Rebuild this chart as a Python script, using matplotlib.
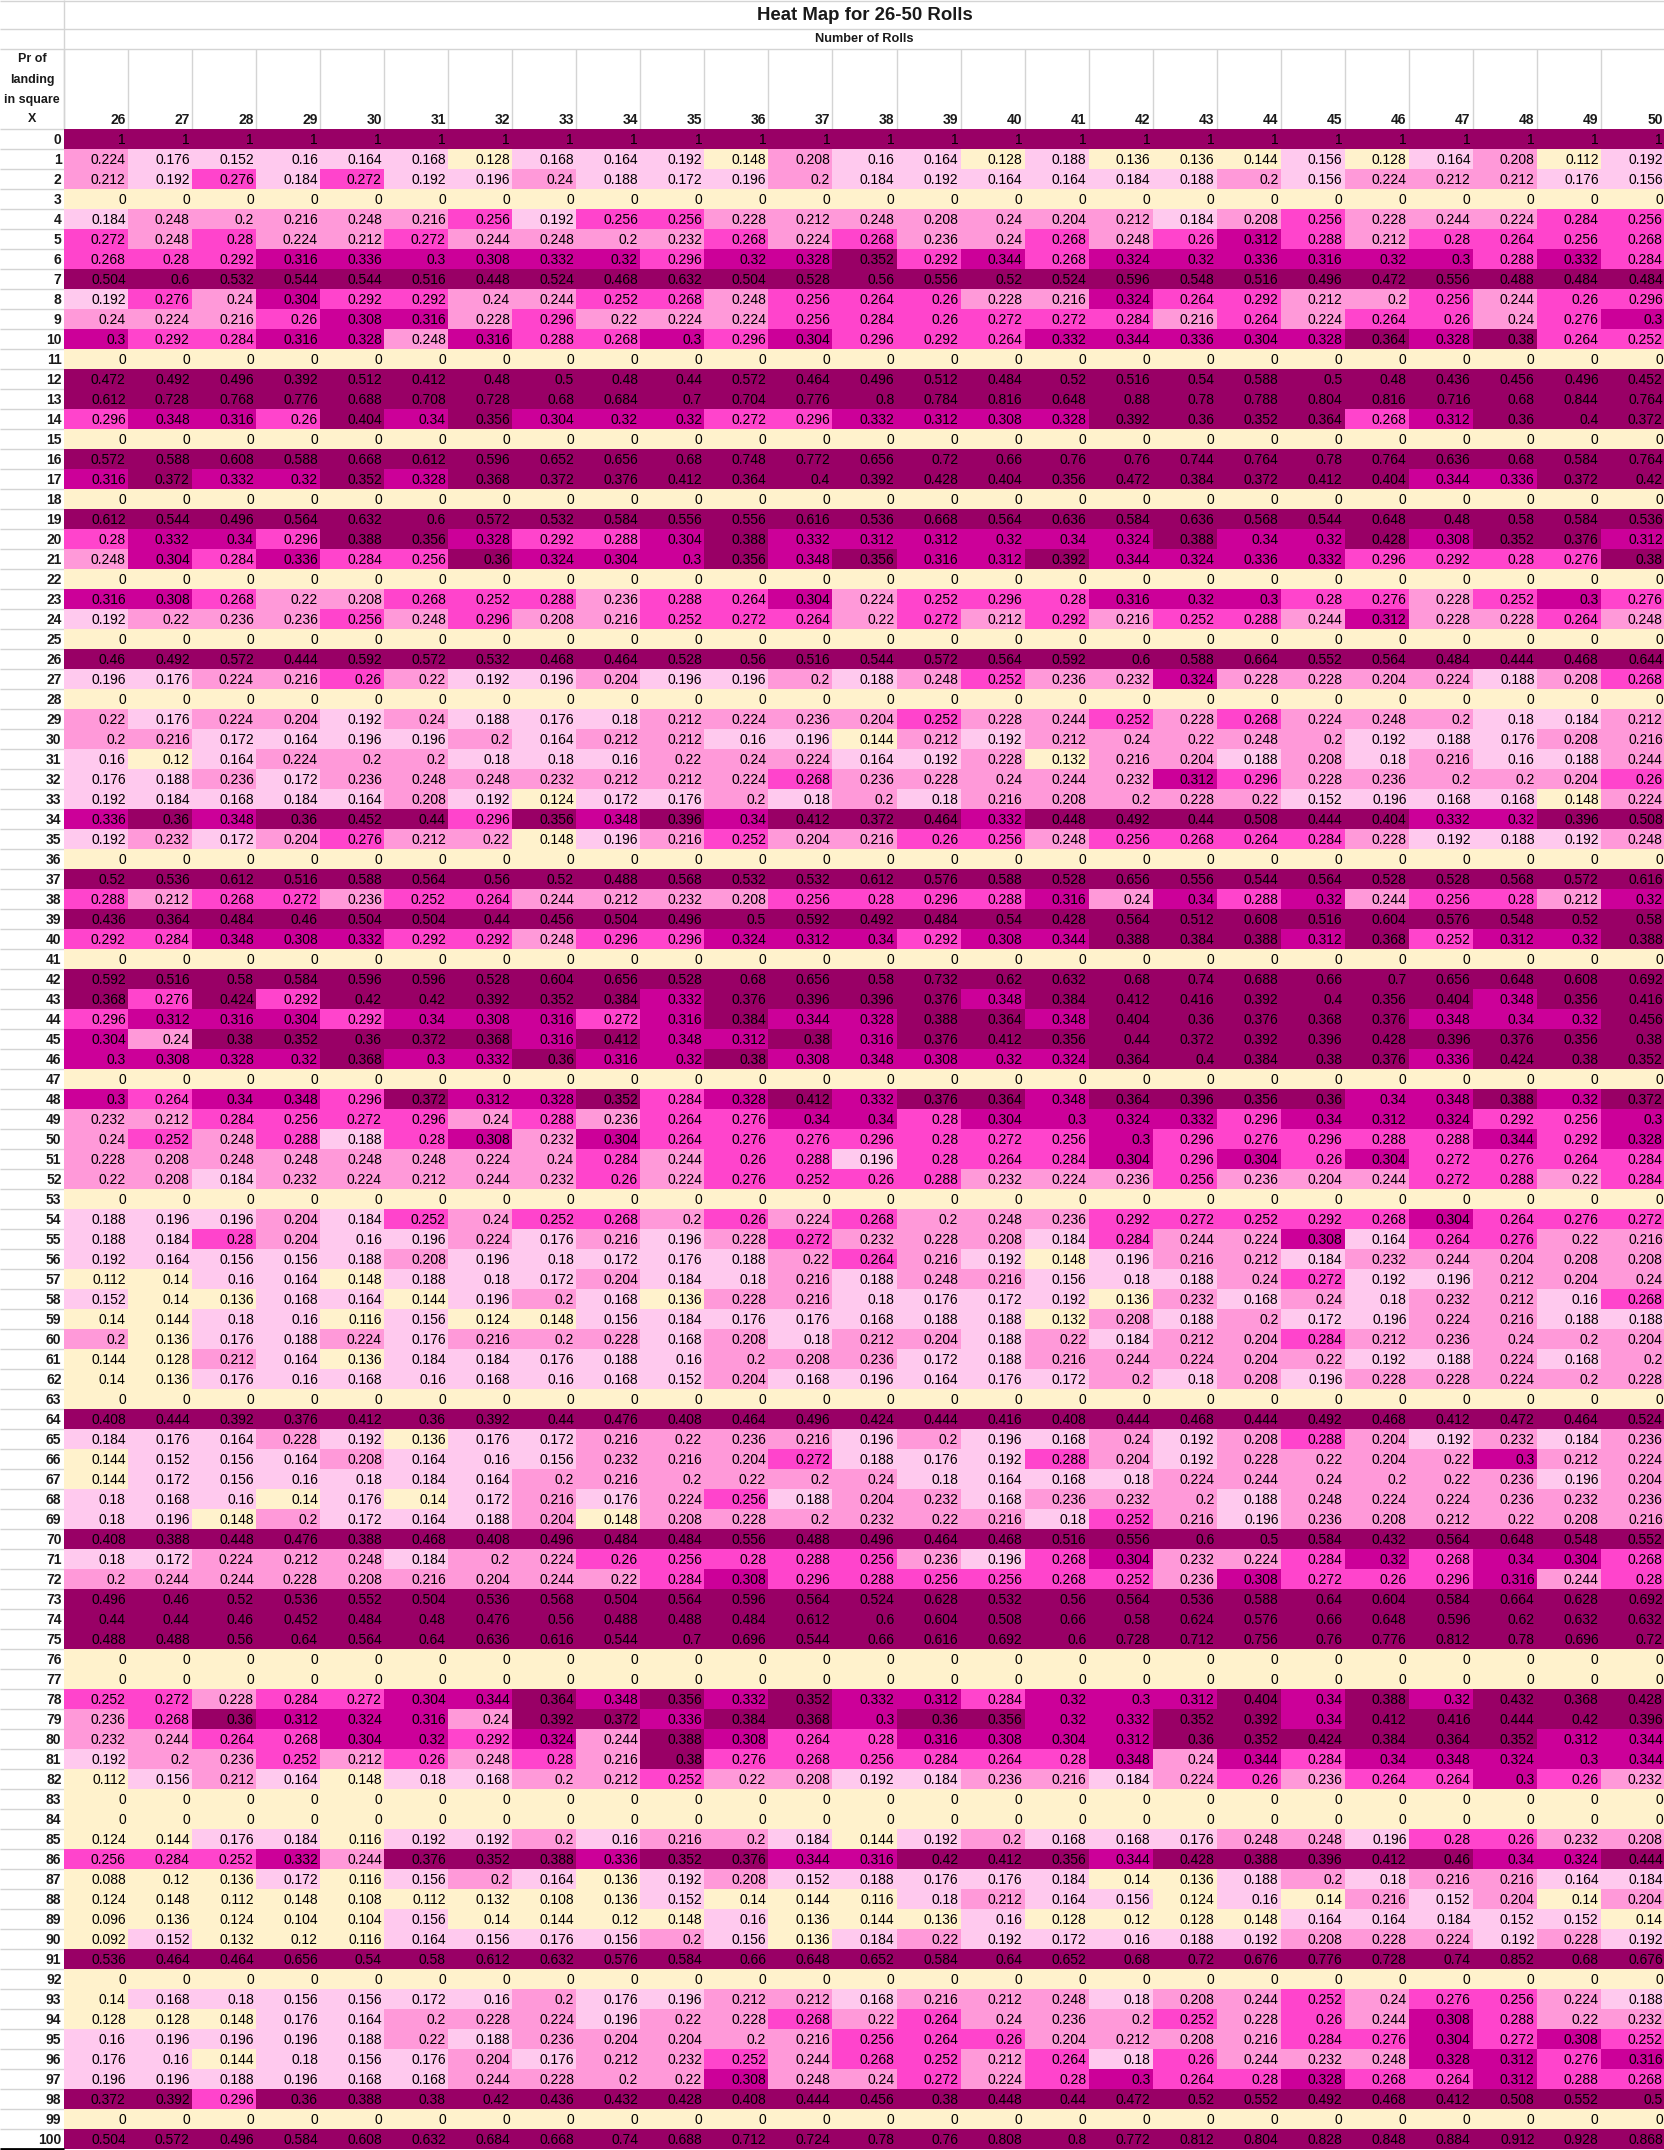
import numpy as np
import matplotlib
matplotlib.use("Agg")
import matplotlib.pyplot as plt
from matplotlib.colors import ListedColormap, BoundaryNorm

rolls = list(range(26, 51))
squares = list(range(0, 101))
title = "Heat Map for 26-50 Rolls"
subtitle = "Number of Rolls"
corner = ["Pr of", "landing", "in square", "X"]

ones = [1] * 25
zeros = [0] * 25

# one list per square X (rows), values for 26..50 rolls
probs = [
    ones,
    [0.224, 0.176, 0.152, 0.16, 0.164, 0.168, 0.128, 0.168, 0.164, 0.192, 0.148, 0.208, 0.16, 0.164, 0.128, 0.188, 0.136, 0.136, 0.144, 0.156, 0.128, 0.164, 0.208, 0.112, 0.192],
    [0.212, 0.192, 0.276, 0.184, 0.272, 0.192, 0.196, 0.24, 0.188, 0.172, 0.196, 0.2, 0.184, 0.192, 0.164, 0.164, 0.184, 0.188, 0.2, 0.156, 0.224, 0.212, 0.212, 0.176, 0.156],
    zeros,
    [0.184, 0.248, 0.2, 0.216, 0.248, 0.216, 0.256, 0.192, 0.256, 0.256, 0.228, 0.212, 0.248, 0.208, 0.24, 0.204, 0.212, 0.184, 0.208, 0.256, 0.228, 0.244, 0.224, 0.284, 0.256],
    [0.272, 0.248, 0.28, 0.224, 0.212, 0.272, 0.244, 0.248, 0.2, 0.232, 0.268, 0.224, 0.268, 0.236, 0.24, 0.268, 0.248, 0.26, 0.312, 0.288, 0.212, 0.28, 0.264, 0.256, 0.268],
    [0.268, 0.28, 0.292, 0.316, 0.336, 0.3, 0.308, 0.332, 0.32, 0.296, 0.32, 0.328, 0.352, 0.292, 0.344, 0.268, 0.324, 0.32, 0.336, 0.316, 0.32, 0.3, 0.288, 0.332, 0.284],
    [0.504, 0.6, 0.532, 0.544, 0.544, 0.516, 0.448, 0.524, 0.468, 0.632, 0.504, 0.528, 0.56, 0.556, 0.52, 0.524, 0.596, 0.548, 0.516, 0.496, 0.472, 0.556, 0.488, 0.484, 0.484],
    [0.192, 0.276, 0.24, 0.304, 0.292, 0.292, 0.24, 0.244, 0.252, 0.268, 0.248, 0.256, 0.264, 0.26, 0.228, 0.216, 0.324, 0.264, 0.292, 0.212, 0.2, 0.256, 0.244, 0.26, 0.296],
    [0.24, 0.224, 0.216, 0.26, 0.308, 0.316, 0.228, 0.296, 0.22, 0.224, 0.224, 0.256, 0.284, 0.26, 0.272, 0.272, 0.284, 0.216, 0.264, 0.224, 0.264, 0.26, 0.24, 0.276, 0.3],
    [0.3, 0.292, 0.284, 0.316, 0.328, 0.248, 0.316, 0.288, 0.268, 0.3, 0.296, 0.304, 0.296, 0.292, 0.264, 0.332, 0.344, 0.336, 0.304, 0.328, 0.364, 0.328, 0.38, 0.264, 0.252],
    zeros,
    [0.472, 0.492, 0.496, 0.392, 0.512, 0.412, 0.48, 0.5, 0.48, 0.44, 0.572, 0.464, 0.496, 0.512, 0.484, 0.52, 0.516, 0.54, 0.588, 0.5, 0.48, 0.436, 0.456, 0.496, 0.452],
    [0.612, 0.728, 0.768, 0.776, 0.688, 0.708, 0.728, 0.68, 0.684, 0.7, 0.704, 0.776, 0.8, 0.784, 0.816, 0.648, 0.88, 0.78, 0.788, 0.804, 0.816, 0.716, 0.68, 0.844, 0.764],
    [0.296, 0.348, 0.316, 0.26, 0.404, 0.34, 0.356, 0.304, 0.32, 0.32, 0.272, 0.296, 0.332, 0.312, 0.308, 0.328, 0.392, 0.36, 0.352, 0.364, 0.268, 0.312, 0.36, 0.4, 0.372],
    zeros,
    [0.572, 0.588, 0.608, 0.588, 0.668, 0.612, 0.596, 0.652, 0.656, 0.68, 0.748, 0.772, 0.656, 0.72, 0.66, 0.76, 0.76, 0.744, 0.764, 0.78, 0.764, 0.636, 0.68, 0.584, 0.764],
    [0.316, 0.372, 0.332, 0.32, 0.352, 0.328, 0.368, 0.372, 0.376, 0.412, 0.364, 0.4, 0.392, 0.428, 0.404, 0.356, 0.472, 0.384, 0.372, 0.412, 0.404, 0.344, 0.336, 0.372, 0.42],
    zeros,
    [0.612, 0.544, 0.496, 0.564, 0.632, 0.6, 0.572, 0.532, 0.584, 0.556, 0.556, 0.616, 0.536, 0.668, 0.564, 0.636, 0.584, 0.636, 0.568, 0.544, 0.648, 0.48, 0.58, 0.584, 0.536],
    [0.28, 0.332, 0.34, 0.296, 0.388, 0.356, 0.328, 0.292, 0.288, 0.304, 0.388, 0.332, 0.312, 0.312, 0.32, 0.34, 0.324, 0.388, 0.34, 0.32, 0.428, 0.308, 0.352, 0.376, 0.312],
    [0.248, 0.304, 0.284, 0.336, 0.284, 0.256, 0.36, 0.324, 0.304, 0.3, 0.356, 0.348, 0.356, 0.316, 0.312, 0.392, 0.344, 0.324, 0.336, 0.332, 0.296, 0.292, 0.28, 0.276, 0.38],
    zeros,
    [0.316, 0.308, 0.268, 0.22, 0.208, 0.268, 0.252, 0.288, 0.236, 0.288, 0.264, 0.304, 0.224, 0.252, 0.296, 0.28, 0.316, 0.32, 0.3, 0.28, 0.276, 0.228, 0.252, 0.3, 0.276],
    [0.192, 0.22, 0.236, 0.236, 0.256, 0.248, 0.296, 0.208, 0.216, 0.252, 0.272, 0.264, 0.22, 0.272, 0.212, 0.292, 0.216, 0.252, 0.288, 0.244, 0.312, 0.228, 0.228, 0.264, 0.248],
    zeros,
    [0.46, 0.492, 0.572, 0.444, 0.592, 0.572, 0.532, 0.468, 0.464, 0.528, 0.56, 0.516, 0.544, 0.572, 0.564, 0.592, 0.6, 0.588, 0.664, 0.552, 0.564, 0.484, 0.444, 0.468, 0.644],
    [0.196, 0.176, 0.224, 0.216, 0.26, 0.22, 0.192, 0.196, 0.204, 0.196, 0.196, 0.2, 0.188, 0.248, 0.252, 0.236, 0.232, 0.324, 0.228, 0.228, 0.204, 0.224, 0.188, 0.208, 0.268],
    zeros,
    [0.22, 0.176, 0.224, 0.204, 0.192, 0.24, 0.188, 0.176, 0.18, 0.212, 0.224, 0.236, 0.204, 0.252, 0.228, 0.244, 0.252, 0.228, 0.268, 0.224, 0.248, 0.2, 0.18, 0.184, 0.212],
    [0.2, 0.216, 0.172, 0.164, 0.196, 0.196, 0.2, 0.164, 0.212, 0.212, 0.16, 0.196, 0.144, 0.212, 0.192, 0.212, 0.24, 0.22, 0.248, 0.2, 0.192, 0.188, 0.176, 0.208, 0.216],
    [0.16, 0.12, 0.164, 0.224, 0.2, 0.2, 0.18, 0.18, 0.16, 0.22, 0.24, 0.224, 0.164, 0.192, 0.228, 0.132, 0.216, 0.204, 0.188, 0.208, 0.18, 0.216, 0.16, 0.188, 0.244],
    [0.176, 0.188, 0.236, 0.172, 0.236, 0.248, 0.248, 0.232, 0.212, 0.212, 0.224, 0.268, 0.236, 0.228, 0.24, 0.244, 0.232, 0.312, 0.296, 0.228, 0.236, 0.2, 0.2, 0.204, 0.26],
    [0.192, 0.184, 0.168, 0.184, 0.164, 0.208, 0.192, 0.124, 0.172, 0.176, 0.2, 0.18, 0.2, 0.18, 0.216, 0.208, 0.2, 0.228, 0.22, 0.152, 0.196, 0.168, 0.168, 0.148, 0.224],
    [0.336, 0.36, 0.348, 0.36, 0.452, 0.44, 0.296, 0.356, 0.348, 0.396, 0.34, 0.412, 0.372, 0.464, 0.332, 0.448, 0.492, 0.44, 0.508, 0.444, 0.404, 0.332, 0.32, 0.396, 0.508],
    [0.192, 0.232, 0.172, 0.204, 0.276, 0.212, 0.22, 0.148, 0.196, 0.216, 0.252, 0.204, 0.216, 0.26, 0.256, 0.248, 0.256, 0.268, 0.264, 0.284, 0.228, 0.192, 0.188, 0.192, 0.248],
    zeros,
    [0.52, 0.536, 0.612, 0.516, 0.588, 0.564, 0.56, 0.52, 0.488, 0.568, 0.532, 0.532, 0.612, 0.576, 0.588, 0.528, 0.656, 0.556, 0.544, 0.564, 0.528, 0.528, 0.568, 0.572, 0.616],
    [0.288, 0.212, 0.268, 0.272, 0.236, 0.252, 0.264, 0.244, 0.212, 0.232, 0.208, 0.256, 0.28, 0.296, 0.288, 0.316, 0.24, 0.34, 0.288, 0.32, 0.244, 0.256, 0.28, 0.212, 0.32],
    [0.436, 0.364, 0.484, 0.46, 0.504, 0.504, 0.44, 0.456, 0.504, 0.496, 0.5, 0.592, 0.492, 0.484, 0.54, 0.428, 0.564, 0.512, 0.608, 0.516, 0.604, 0.576, 0.548, 0.52, 0.58],
    [0.292, 0.284, 0.348, 0.308, 0.332, 0.292, 0.292, 0.248, 0.296, 0.296, 0.324, 0.312, 0.34, 0.292, 0.308, 0.344, 0.388, 0.384, 0.388, 0.312, 0.368, 0.252, 0.312, 0.32, 0.388],
    zeros,
    [0.592, 0.516, 0.58, 0.584, 0.596, 0.596, 0.528, 0.604, 0.656, 0.528, 0.68, 0.656, 0.58, 0.732, 0.62, 0.632, 0.68, 0.74, 0.688, 0.66, 0.7, 0.656, 0.648, 0.608, 0.692],
    [0.368, 0.276, 0.424, 0.292, 0.42, 0.42, 0.392, 0.352, 0.384, 0.332, 0.376, 0.396, 0.396, 0.376, 0.348, 0.384, 0.412, 0.416, 0.392, 0.4, 0.356, 0.404, 0.348, 0.356, 0.416],
    [0.296, 0.312, 0.316, 0.304, 0.292, 0.34, 0.308, 0.316, 0.272, 0.316, 0.384, 0.344, 0.328, 0.388, 0.364, 0.348, 0.404, 0.36, 0.376, 0.368, 0.376, 0.348, 0.34, 0.32, 0.456],
    [0.304, 0.24, 0.38, 0.352, 0.36, 0.372, 0.368, 0.316, 0.412, 0.348, 0.312, 0.38, 0.316, 0.376, 0.412, 0.356, 0.44, 0.372, 0.392, 0.396, 0.428, 0.396, 0.376, 0.356, 0.38],
    [0.3, 0.308, 0.328, 0.32, 0.368, 0.3, 0.332, 0.36, 0.316, 0.32, 0.38, 0.308, 0.348, 0.308, 0.32, 0.324, 0.364, 0.4, 0.384, 0.38, 0.376, 0.336, 0.424, 0.38, 0.352],
    zeros,
    [0.3, 0.264, 0.34, 0.348, 0.296, 0.372, 0.312, 0.328, 0.352, 0.284, 0.328, 0.412, 0.332, 0.376, 0.364, 0.348, 0.364, 0.396, 0.356, 0.36, 0.34, 0.348, 0.388, 0.32, 0.372],
    [0.232, 0.212, 0.284, 0.256, 0.272, 0.296, 0.24, 0.288, 0.236, 0.264, 0.276, 0.34, 0.34, 0.28, 0.304, 0.3, 0.324, 0.332, 0.296, 0.34, 0.312, 0.324, 0.292, 0.256, 0.3],
    [0.24, 0.252, 0.248, 0.288, 0.188, 0.28, 0.308, 0.232, 0.304, 0.264, 0.276, 0.276, 0.296, 0.28, 0.272, 0.256, 0.3, 0.296, 0.276, 0.296, 0.288, 0.288, 0.344, 0.292, 0.328],
    [0.228, 0.208, 0.248, 0.248, 0.248, 0.248, 0.224, 0.24, 0.284, 0.244, 0.26, 0.288, 0.196, 0.28, 0.264, 0.284, 0.304, 0.296, 0.304, 0.26, 0.304, 0.272, 0.276, 0.264, 0.284],
    [0.22, 0.208, 0.184, 0.232, 0.224, 0.212, 0.244, 0.232, 0.26, 0.224, 0.276, 0.252, 0.26, 0.288, 0.232, 0.224, 0.236, 0.256, 0.236, 0.204, 0.244, 0.272, 0.288, 0.22, 0.284],
    zeros,
    [0.188, 0.196, 0.196, 0.204, 0.184, 0.252, 0.24, 0.252, 0.268, 0.2, 0.26, 0.224, 0.268, 0.2, 0.248, 0.236, 0.292, 0.272, 0.252, 0.292, 0.268, 0.304, 0.264, 0.276, 0.272],
    [0.188, 0.184, 0.28, 0.204, 0.16, 0.196, 0.224, 0.176, 0.216, 0.196, 0.228, 0.272, 0.232, 0.228, 0.208, 0.184, 0.284, 0.244, 0.224, 0.308, 0.164, 0.264, 0.276, 0.22, 0.216],
    [0.192, 0.164, 0.156, 0.156, 0.188, 0.208, 0.196, 0.18, 0.172, 0.176, 0.188, 0.22, 0.264, 0.216, 0.192, 0.148, 0.196, 0.216, 0.212, 0.184, 0.232, 0.244, 0.204, 0.208, 0.208],
    [0.112, 0.14, 0.16, 0.164, 0.148, 0.188, 0.18, 0.172, 0.204, 0.184, 0.18, 0.216, 0.188, 0.248, 0.216, 0.156, 0.18, 0.188, 0.24, 0.272, 0.192, 0.196, 0.212, 0.204, 0.24],
    [0.152, 0.14, 0.136, 0.168, 0.164, 0.144, 0.196, 0.2, 0.168, 0.136, 0.228, 0.216, 0.18, 0.176, 0.172, 0.192, 0.136, 0.232, 0.168, 0.24, 0.18, 0.232, 0.212, 0.16, 0.268],
    [0.14, 0.144, 0.18, 0.16, 0.116, 0.156, 0.124, 0.148, 0.156, 0.184, 0.176, 0.176, 0.168, 0.188, 0.188, 0.132, 0.208, 0.188, 0.2, 0.172, 0.196, 0.224, 0.216, 0.188, 0.188],
    [0.2, 0.136, 0.176, 0.188, 0.224, 0.176, 0.216, 0.2, 0.228, 0.168, 0.208, 0.18, 0.212, 0.204, 0.188, 0.22, 0.184, 0.212, 0.204, 0.284, 0.212, 0.236, 0.24, 0.2, 0.204],
    [0.144, 0.128, 0.212, 0.164, 0.136, 0.184, 0.184, 0.176, 0.188, 0.16, 0.2, 0.208, 0.236, 0.172, 0.188, 0.216, 0.244, 0.224, 0.204, 0.22, 0.192, 0.188, 0.224, 0.168, 0.2],
    [0.14, 0.136, 0.176, 0.16, 0.168, 0.16, 0.168, 0.16, 0.168, 0.152, 0.204, 0.168, 0.196, 0.164, 0.176, 0.172, 0.2, 0.18, 0.208, 0.196, 0.228, 0.228, 0.224, 0.2, 0.228],
    zeros,
    [0.408, 0.444, 0.392, 0.376, 0.412, 0.36, 0.392, 0.44, 0.476, 0.408, 0.464, 0.496, 0.424, 0.444, 0.416, 0.408, 0.444, 0.468, 0.444, 0.492, 0.468, 0.412, 0.472, 0.464, 0.524],
    [0.184, 0.176, 0.164, 0.228, 0.192, 0.136, 0.176, 0.172, 0.216, 0.22, 0.236, 0.216, 0.196, 0.2, 0.196, 0.168, 0.24, 0.192, 0.208, 0.288, 0.204, 0.192, 0.232, 0.184, 0.236],
    [0.144, 0.152, 0.156, 0.164, 0.208, 0.164, 0.16, 0.156, 0.232, 0.216, 0.204, 0.272, 0.188, 0.176, 0.192, 0.288, 0.204, 0.192, 0.228, 0.22, 0.204, 0.22, 0.3, 0.212, 0.224],
    [0.144, 0.172, 0.156, 0.16, 0.18, 0.184, 0.164, 0.2, 0.216, 0.2, 0.22, 0.2, 0.24, 0.18, 0.164, 0.168, 0.18, 0.224, 0.244, 0.24, 0.2, 0.22, 0.236, 0.196, 0.204],
    [0.18, 0.168, 0.16, 0.14, 0.176, 0.14, 0.172, 0.216, 0.176, 0.224, 0.256, 0.188, 0.204, 0.232, 0.168, 0.236, 0.232, 0.2, 0.188, 0.248, 0.224, 0.224, 0.236, 0.232, 0.236],
    [0.18, 0.196, 0.148, 0.2, 0.172, 0.164, 0.188, 0.204, 0.148, 0.208, 0.228, 0.2, 0.232, 0.22, 0.216, 0.18, 0.252, 0.216, 0.196, 0.236, 0.208, 0.212, 0.22, 0.208, 0.216],
    [0.408, 0.388, 0.448, 0.476, 0.388, 0.468, 0.408, 0.496, 0.484, 0.484, 0.556, 0.488, 0.496, 0.464, 0.468, 0.516, 0.556, 0.6, 0.5, 0.584, 0.432, 0.564, 0.648, 0.548, 0.552],
    [0.18, 0.172, 0.224, 0.212, 0.248, 0.184, 0.2, 0.224, 0.26, 0.256, 0.28, 0.288, 0.256, 0.236, 0.196, 0.268, 0.304, 0.232, 0.224, 0.284, 0.32, 0.268, 0.34, 0.304, 0.268],
    [0.2, 0.244, 0.244, 0.228, 0.208, 0.216, 0.204, 0.244, 0.22, 0.284, 0.308, 0.296, 0.288, 0.256, 0.256, 0.268, 0.252, 0.236, 0.308, 0.272, 0.26, 0.296, 0.316, 0.244, 0.28],
    [0.496, 0.46, 0.52, 0.536, 0.552, 0.504, 0.536, 0.568, 0.504, 0.564, 0.596, 0.564, 0.524, 0.628, 0.532, 0.56, 0.564, 0.536, 0.588, 0.64, 0.604, 0.584, 0.664, 0.628, 0.692],
    [0.44, 0.44, 0.46, 0.452, 0.484, 0.48, 0.476, 0.56, 0.488, 0.488, 0.484, 0.612, 0.6, 0.604, 0.508, 0.66, 0.58, 0.624, 0.576, 0.66, 0.648, 0.596, 0.62, 0.632, 0.632],
    [0.488, 0.488, 0.56, 0.64, 0.564, 0.64, 0.636, 0.616, 0.544, 0.7, 0.696, 0.544, 0.66, 0.616, 0.692, 0.6, 0.728, 0.712, 0.756, 0.76, 0.776, 0.812, 0.78, 0.696, 0.72],
    zeros,
    zeros,
    [0.252, 0.272, 0.228, 0.284, 0.272, 0.304, 0.344, 0.364, 0.348, 0.356, 0.332, 0.352, 0.332, 0.312, 0.284, 0.32, 0.3, 0.312, 0.404, 0.34, 0.388, 0.32, 0.432, 0.368, 0.428],
    [0.236, 0.268, 0.36, 0.312, 0.324, 0.316, 0.24, 0.392, 0.372, 0.336, 0.384, 0.368, 0.3, 0.36, 0.356, 0.32, 0.332, 0.352, 0.392, 0.34, 0.412, 0.416, 0.444, 0.42, 0.396],
    [0.232, 0.244, 0.264, 0.268, 0.304, 0.32, 0.292, 0.324, 0.244, 0.388, 0.308, 0.264, 0.28, 0.316, 0.308, 0.304, 0.312, 0.36, 0.352, 0.424, 0.384, 0.364, 0.352, 0.312, 0.344],
    [0.192, 0.2, 0.236, 0.252, 0.212, 0.26, 0.248, 0.28, 0.216, 0.38, 0.276, 0.268, 0.256, 0.284, 0.264, 0.28, 0.348, 0.24, 0.344, 0.284, 0.34, 0.348, 0.324, 0.3, 0.344],
    [0.112, 0.156, 0.212, 0.164, 0.148, 0.18, 0.168, 0.2, 0.212, 0.252, 0.22, 0.208, 0.192, 0.184, 0.236, 0.216, 0.184, 0.224, 0.26, 0.236, 0.264, 0.264, 0.3, 0.26, 0.232],
    zeros,
    zeros,
    [0.124, 0.144, 0.176, 0.184, 0.116, 0.192, 0.192, 0.2, 0.16, 0.216, 0.2, 0.184, 0.144, 0.192, 0.2, 0.168, 0.168, 0.176, 0.248, 0.248, 0.196, 0.28, 0.26, 0.232, 0.208],
    [0.256, 0.284, 0.252, 0.332, 0.244, 0.376, 0.352, 0.388, 0.336, 0.352, 0.376, 0.344, 0.316, 0.42, 0.412, 0.356, 0.344, 0.428, 0.388, 0.396, 0.412, 0.46, 0.34, 0.324, 0.444],
    [0.088, 0.12, 0.136, 0.172, 0.116, 0.156, 0.2, 0.164, 0.136, 0.192, 0.208, 0.152, 0.188, 0.176, 0.176, 0.184, 0.14, 0.136, 0.188, 0.2, 0.18, 0.216, 0.216, 0.164, 0.184],
    [0.124, 0.148, 0.112, 0.148, 0.108, 0.112, 0.132, 0.108, 0.136, 0.152, 0.14, 0.144, 0.116, 0.18, 0.212, 0.164, 0.156, 0.124, 0.16, 0.14, 0.216, 0.152, 0.204, 0.14, 0.204],
    [0.096, 0.136, 0.124, 0.104, 0.104, 0.156, 0.14, 0.144, 0.12, 0.148, 0.16, 0.136, 0.144, 0.136, 0.16, 0.128, 0.12, 0.128, 0.148, 0.164, 0.164, 0.184, 0.152, 0.152, 0.14],
    [0.092, 0.152, 0.132, 0.12, 0.116, 0.164, 0.156, 0.176, 0.156, 0.2, 0.156, 0.136, 0.184, 0.22, 0.192, 0.172, 0.16, 0.188, 0.192, 0.208, 0.228, 0.224, 0.192, 0.228, 0.192],
    [0.536, 0.464, 0.464, 0.656, 0.54, 0.58, 0.612, 0.632, 0.576, 0.584, 0.66, 0.648, 0.652, 0.584, 0.64, 0.652, 0.68, 0.72, 0.676, 0.776, 0.728, 0.74, 0.852, 0.68, 0.676],
    zeros,
    [0.14, 0.168, 0.18, 0.156, 0.156, 0.172, 0.16, 0.2, 0.176, 0.196, 0.212, 0.212, 0.168, 0.216, 0.212, 0.248, 0.18, 0.208, 0.244, 0.252, 0.24, 0.276, 0.256, 0.224, 0.188],
    [0.128, 0.128, 0.148, 0.176, 0.164, 0.2, 0.228, 0.224, 0.196, 0.22, 0.228, 0.268, 0.22, 0.264, 0.24, 0.236, 0.2, 0.252, 0.228, 0.26, 0.244, 0.308, 0.288, 0.22, 0.232],
    [0.16, 0.196, 0.196, 0.196, 0.188, 0.22, 0.188, 0.236, 0.204, 0.204, 0.2, 0.216, 0.256, 0.264, 0.26, 0.204, 0.212, 0.208, 0.216, 0.284, 0.276, 0.304, 0.272, 0.308, 0.252],
    [0.176, 0.16, 0.144, 0.18, 0.156, 0.176, 0.204, 0.176, 0.212, 0.232, 0.252, 0.244, 0.268, 0.252, 0.212, 0.264, 0.18, 0.26, 0.244, 0.232, 0.248, 0.328, 0.312, 0.276, 0.316],
    [0.196, 0.196, 0.188, 0.196, 0.168, 0.168, 0.244, 0.228, 0.2, 0.22, 0.308, 0.248, 0.24, 0.272, 0.224, 0.28, 0.3, 0.264, 0.28, 0.328, 0.268, 0.264, 0.312, 0.288, 0.268],
    [0.372, 0.392, 0.296, 0.36, 0.388, 0.38, 0.42, 0.436, 0.432, 0.428, 0.408, 0.444, 0.456, 0.38, 0.448, 0.44, 0.472, 0.52, 0.552, 0.492, 0.468, 0.412, 0.508, 0.552, 0.5],
    zeros,
    [0.504, 0.572, 0.496, 0.584, 0.608, 0.632, 0.684, 0.668, 0.74, 0.688, 0.712, 0.724, 0.78, 0.76, 0.808, 0.8, 0.772, 0.812, 0.804, 0.828, 0.848, 0.884, 0.912, 0.928, 0.868],
]

# colour bands of the sheet's conditional formatting
bounds = [0, 0.15, 0.2, 0.25, 0.3, 0.35, 1.01]
band_colors = ["#FFF2CC", "#FFC9EE", "#FF99D9", "#FF44CC", "#CC0099", "#990066"]

plt.rcParams["font.family"] = ["Liberation Sans", "DejaVu Sans"]

W, H = 1665, 2150
left_px, top_px, row_px = 64, 128.5, 20
colw = (W - left_px) / len(rolls)
grid = "#D4D4D4"
ink = "#1A1A1A"

fig = plt.figure(figsize=(W / 100, H / 100), dpi=100)
ax = fig.add_axes([0, 0, 1, 1])
ax.set_xlim(-left_px / colw, len(rolls))
ax.set_ylim(len(squares) + (H - top_px - len(squares) * row_px) / row_px, -top_px / row_px)
ax.axis("off")
x0 = -left_px / colw
ytop = -top_px / row_px

data = np.array(probs)
cmap = ListedColormap(band_colors)
norm = BoundaryNorm(bounds, cmap.N)
ax.pcolormesh(np.arange(len(rolls) + 1), np.arange(len(squares) + 1), data,
              cmap=cmap, norm=norm, zorder=2)

# sheet grid lines
ax.hlines(np.arange(len(squares) + 1), x0, 0, color=grid, lw=1, zorder=1)
ax.vlines(np.arange(len(rolls) + 1), -4, 0, color=grid, lw=1, zorder=1)
ax.hlines([ytop + 0.05, -5, -4], x0, len(rolls), color=grid, lw=1, zorder=1)
ax.vlines(0, ytop, 0, color=grid, lw=1, zorder=1)
ax.hlines(len(squares), x0, 0, color="black", lw=2, zorder=3)

for i, row in enumerate(probs):
    for j, v in enumerate(row):
        ax.text(j + 0.965, i + 0.55, f"{v:g}", ha="right", va="center",
                fontsize=10, color="black", zorder=4)

for i, s in enumerate(squares):
    ax.text(-0.04, i + 0.55, str(s), ha="right", va="center",
            fontsize=10, fontweight="bold", color=ink)

for j, r in enumerate(rolls):
    ax.text(j + 0.965, -0.45, str(r), ha="right", va="center",
            fontsize=10, fontweight="bold", color=ink)

for k, line in enumerate(corner):
    ax.text(x0 / 2, -3.45 + k, line, ha="center", va="center",
            fontsize=9, fontweight="bold", color=ink)

ax.text(len(rolls) / 2, -5.65, title, ha="center", va="center",
        fontsize=13.4, fontweight="bold", color=ink)
ax.text(len(rolls) / 2, -4.5, subtitle, ha="center", va="center",
        fontsize=9.2, fontweight="bold", color=ink)

fig.savefig("out.png", dpi=100)
